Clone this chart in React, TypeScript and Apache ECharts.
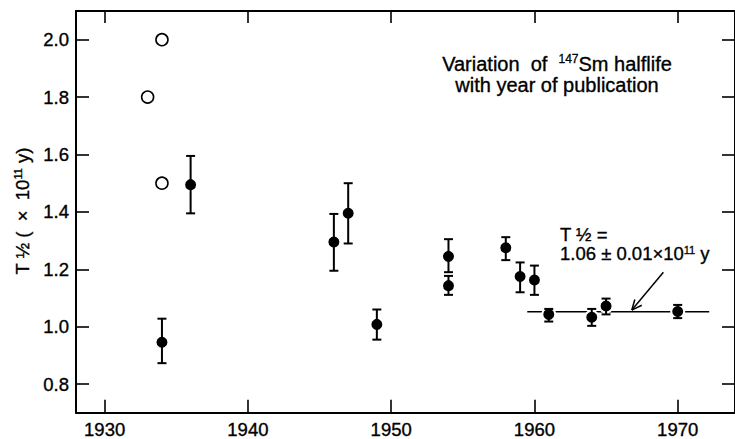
import React, { useEffect, useRef } from "react";
import * as echarts from "echarts";

// ---- data ----
const xTicks = [1930, 1940, 1950, 1960, 1970];
const yTicks = [0.8, 1.0, 1.2, 1.4, 1.6, 1.8, 2.0];

const openYears = [1933, 1934, 1934];
const openValues = [1.8, 2.0, 1.5];

const years = [1934, 1936, 1946, 1947, 1949, 1954, 1954, 1958, 1959, 1960, 1961, 1964, 1965, 1970];
const values = [0.946, 1.495, 1.295, 1.395, 1.008, 1.245, 1.143, 1.275, 1.175, 1.163, 1.043, 1.033, 1.072, 1.053];
const errLow = [0.873, 1.395, 1.195, 1.29, 0.955, 1.19, 1.111, 1.232, 1.12, 1.111, 1.018, 1.003, 1.043, 1.03];
const errHigh = [1.028, 1.595, 1.393, 1.5, 1.06, 1.305, 1.177, 1.312, 1.224, 1.213, 1.062, 1.062, 1.098, 1.076];

const fitValue = 1.052;
const fitYears = [1959.5, 1972.2];
const arrowFrom = [1969.0, 1.19];
const arrowTo = [1966.8, 1.058];

const FONT = '"Liberation Sans", Arial, Helvetica, sans-serif';
const INK = { textBorderColor: "#000", textBorderWidth: 0.35 };

export default function App() {
  const ref = useRef<HTMLDivElement>(null);

  useEffect(() => {
    if (!ref.current) return;
    const chart = echarts.init(ref.current, undefined, { renderer: "svg" });

    const axisLineStyle = { color: "#000", width: 2 };
    const tickStyle = { color: "#000", width: 1.6 };

    const option: any = {
      animation: false,
      backgroundColor: "#fff",
      grid: { left: 76, top: 11, width: 660, height: 402, containLabel: false },
      xAxis: [
        {
          type: "value",
          min: 1928,
          max: 1974,
          position: "bottom",
          axisLine: { show: true, onZero: false, lineStyle: axisLineStyle },
          axisTick: { show: true, inside: true, length: 13, lineStyle: tickStyle, customValues: xTicks },
          axisLabel: {
            show: true,
            customValues: xTicks,
            color: "#000",
            fontSize: 18.5,
            fontFamily: FONT,
            margin: 7,
            ...INK,
            formatter: (v: number) => String(v),
          },
          splitLine: { show: false },
        },
        {
          type: "value",
          min: 1928,
          max: 1974,
          position: "top",
          axisLine: { show: true, onZero: false, lineStyle: axisLineStyle },
          axisTick: { show: true, inside: true, length: 12, lineStyle: tickStyle, customValues: xTicks },
          axisLabel: { show: false },
          splitLine: { show: false },
        },
      ],
      yAxis: [
        {
          type: "value",
          min: 0.7,
          max: 2.1,
          position: "left",
          axisLine: { show: true, onZero: false, lineStyle: axisLineStyle },
          axisTick: { show: true, inside: true, length: 13, lineStyle: tickStyle, customValues: yTicks },
          axisLabel: {
            show: true,
            customValues: yTicks,
            color: "#000",
            fontSize: 18.5,
            fontFamily: FONT,
            margin: 7,
            ...INK,
            formatter: (v: number) => v.toFixed(1),
          },
          splitLine: { show: false },
        },
        {
          type: "value",
          min: 0.7,
          max: 2.1,
          position: "right",
          axisLine: { show: true, onZero: false, lineStyle: axisLineStyle },
          axisTick: { show: true, inside: true, length: 13, lineStyle: tickStyle, customValues: yTicks },
          axisLabel: { show: false },
          splitLine: { show: false },
        },
      ],
      graphic: [
        {
          type: "text",
          x: 557,
          y: 53,
          style: {
            text: "{a|Variation  of  }{s|147}{a|Sm halflife}\n{a|with year of publication}",
            align: "center",
            verticalAlign: "top",
            fill: "#000",
            rich: {
              a: { fontSize: 20, lineHeight: 21.5, fontFamily: FONT, fill: "#000", stroke: "#000", lineWidth: 0.35 },
              s: { fontSize: 12, lineHeight: 12, fontFamily: FONT, verticalAlign: "top", fill: "#000", stroke: "#000", lineWidth: 0.3 },
            },
          },
        },
        {
          type: "text",
          x: 560,
          y: 225,
          style: {
            text: "{a|T ½ =}\n{a|1.06 ± 0.01×10}{s|11}{a| y}",
            align: "left",
            verticalAlign: "top",
            fill: "#000",
            rich: {
              a: { fontSize: 18.5, lineHeight: 19, fontFamily: FONT, fill: "#000", stroke: "#000", lineWidth: 0.35 },
              s: { fontSize: 11, lineHeight: 11, fontFamily: FONT, verticalAlign: "top", fill: "#000", stroke: "#000", lineWidth: 0.3 },
            },
          },
        },
        {
          type: "text",
          x: 22,
          y: 211,
          rotation: Math.PI / 2,
          style: {
            text: "{a|T ½ (  ×  10}{s|11}{a| y)}",
            align: "center",
            verticalAlign: "middle",
            fill: "#000",
            rich: {
              a: { fontSize: 18.5, lineHeight: 20, fontFamily: FONT, fill: "#000", stroke: "#000", lineWidth: 0.35 },
              s: { fontSize: 11, lineHeight: 11, fontFamily: FONT, verticalAlign: "top", fill: "#000", stroke: "#000", lineWidth: 0.3 },
            },
          },
        },
      ],
      series: [
        {
          type: "line",
          data: fitYears.map((y) => [y, fitValue]),
          symbol: "none",
          lineStyle: { color: "#000", width: 1.6 },
          z: 1,
          silent: true,
        },
        {
          type: "scatter",
          data: years.map((y, i) => [y, values[i]]),
          symbol: "circle",
          symbolSize: 13,
          itemStyle: { color: "#000", borderColor: "#fff", borderWidth: 2, opacity: 1 },
          z: 2,
        },
        {
          type: "custom",
          data: years.map((y, i) => [y, errLow[i], errHigh[i]]),
          encode: { x: 0, y: [1, 2] },
          z: 3,
          renderItem: (_params: any, api: any) => {
            const x = api.value(0);
            const lo = api.coord([x, api.value(1)]);
            const hi = api.coord([x, api.value(2)]);
            const half = 4.5;
            const style = { stroke: "#000", lineWidth: 2, fill: null };
            return {
              type: "group",
              children: [
                { type: "line", shape: { x1: lo[0], y1: lo[1], x2: hi[0], y2: hi[1] }, style },
                { type: "line", shape: { x1: lo[0] - half, y1: lo[1], x2: lo[0] + half, y2: lo[1] }, style },
                { type: "line", shape: { x1: hi[0] - half, y1: hi[1], x2: hi[0] + half, y2: hi[1] }, style },
              ],
            };
          },
        },
        {
          type: "scatter",
          data: openYears.map((y, i) => [y, openValues[i]]),
          symbol: "circle",
          symbolSize: 12,
          itemStyle: { color: "#fff", borderColor: "#000", borderWidth: 1.6, opacity: 1 },
          z: 4,
        },
        {
          type: "custom",
          data: [[arrowFrom[0], arrowFrom[1], arrowTo[0], arrowTo[1]]],
          encode: { x: [0, 2], y: [1, 3] },
          z: 5,
          renderItem: (_params: any, api: any) => {
            const p1 = api.coord([api.value(0), api.value(1)]);
            const p2 = api.coord([api.value(2), api.value(3)]);
            const ang = Math.atan2(p1[1] - p2[1], p1[0] - p2[0]);
            const len = 11;
            const spread = 0.42;
            const h1 = [p2[0] + len * Math.cos(ang + spread), p2[1] + len * Math.sin(ang + spread)];
            const h2 = [p2[0] + len * Math.cos(ang - spread), p2[1] + len * Math.sin(ang - spread)];
            const style = { stroke: "#000", lineWidth: 1.5, fill: null };
            return {
              type: "group",
              children: [
                { type: "line", shape: { x1: p1[0], y1: p1[1], x2: p2[0], y2: p2[1] }, style },
                { type: "line", shape: { x1: p2[0], y1: p2[1], x2: h1[0], y2: h1[1] }, style },
                { type: "line", shape: { x1: p2[0], y1: p2[1], x2: h2[0], y2: h2[1] }, style },
              ],
            };
          },
        },
      ],
    };

    chart.setOption(option);
    return () => chart.dispose();
  }, []);

  return (
    <div
      ref={ref}
      style={{ position: "fixed", left: 0, top: 0, width: 735, height: 439, background: "#fff" }}
    />
  );
}
